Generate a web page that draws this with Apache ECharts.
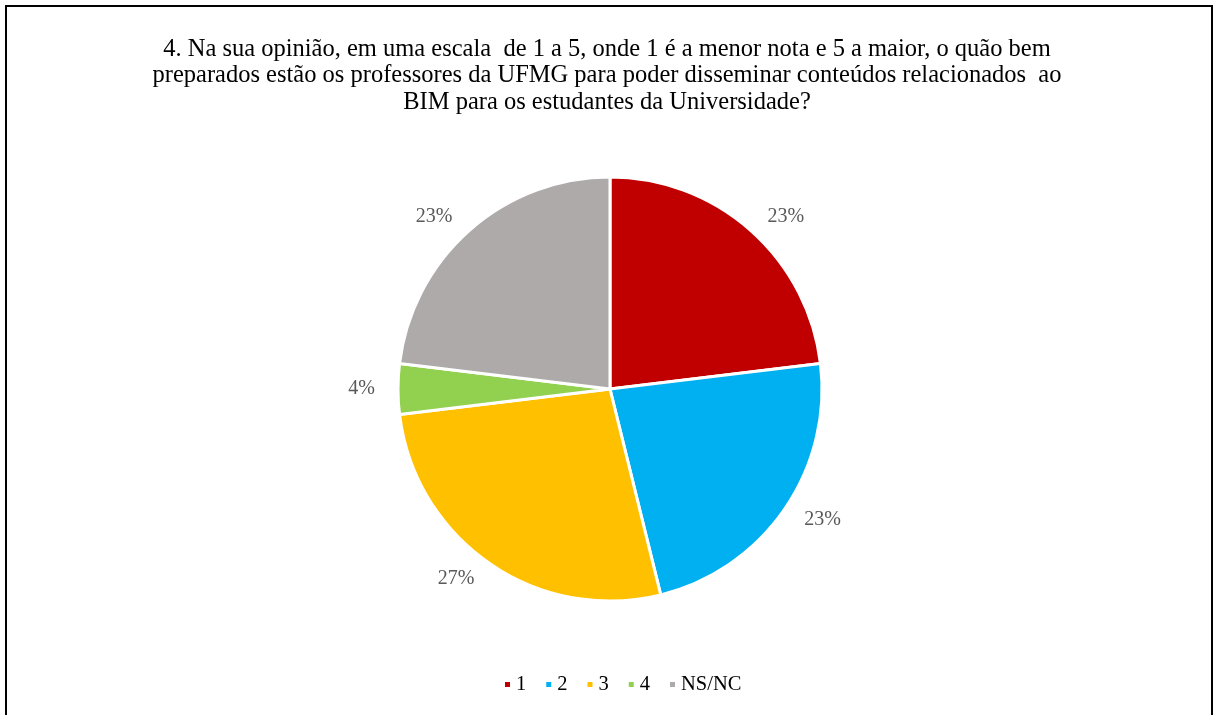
<!DOCTYPE html>
<html>
<head>
<meta charset="utf-8">
<script src="https://cdn.jsdelivr.net/npm/echarts@6/dist/echarts.min.js"></script>
<style>
html,body{margin:0;padding:0;background:#fff;}
#chart{width:1214px;height:715px;}
</style>
</head>
<body>
<div id="chart"></div>
<script>
const titleText = "4. Na sua opinião, em uma escala  de 1 a 5, onde 1 é a menor nota e 5 a maior, o quão bem\npreparados estão os professores da UFMG para poder disseminar conteúdos relacionados  ao\nBIM para os estudantes da Universidade?";
const categories = ["1", "2", "3", "4", "NS/NC"];
const values = [6, 6, 7, 1, 6];
const colors = ["#C00000", "#00B0F0", "#FFC000", "#92D050", "#AEAAAA"];

const chart = echarts.init(document.getElementById('chart'), null, {renderer: 'canvas'});
const total = values.reduce((a, b) => a + b, 0);
const font = "Liberation Serif";
chart.setOption({
  animation: false,
  color: colors,
  title: {
    text: titleText,
    left: 'center',
    top: 31,
    textStyle: {
      fontFamily: font,
      fontSize: 24.5,
      fontWeight: 'normal',
      color: '#000',
      lineHeight: 26.5,
      align: 'center'
    }
  },
  graphic: [{
    type: 'rect',
    shape: {x: 6, y: 6, width: 1206, height: 712},
    style: {fill: 'none', stroke: '#000', lineWidth: 2},
    silent: true
  }],
  legend: {
    bottom: 15,
    left: 498,
    padding: [5, 0, 5, 5],
    itemWidth: 7,
    itemHeight: 7,
    itemGap: 18,
    icon: 'rect',
    textStyle: {fontFamily: font, fontSize: 20.5, color: '#000'},
    data: categories
  },
  series: [{
    type: 'pie',
    center: [610, 389],
    radius: 212,
    startAngle: 90,
    clockwise: true,
    avoidLabelOverlap: false,
    itemStyle: {borderColor: '#fff', borderWidth: 3},
    label: {
      show: true,
      position: 'outside',
      fontFamily: font,
      fontSize: 20,
      color: '#595959',
      formatter: p => Math.round(p.value / total * 100) + '%'
    },
    labelLine: {show: false, length: 18, length2: 0},
    emphasis: {disabled: true},
    data: categories.map((c, i) => ({name: c, value: values[i]}))
  }]
});
</script>
</body>
</html>
